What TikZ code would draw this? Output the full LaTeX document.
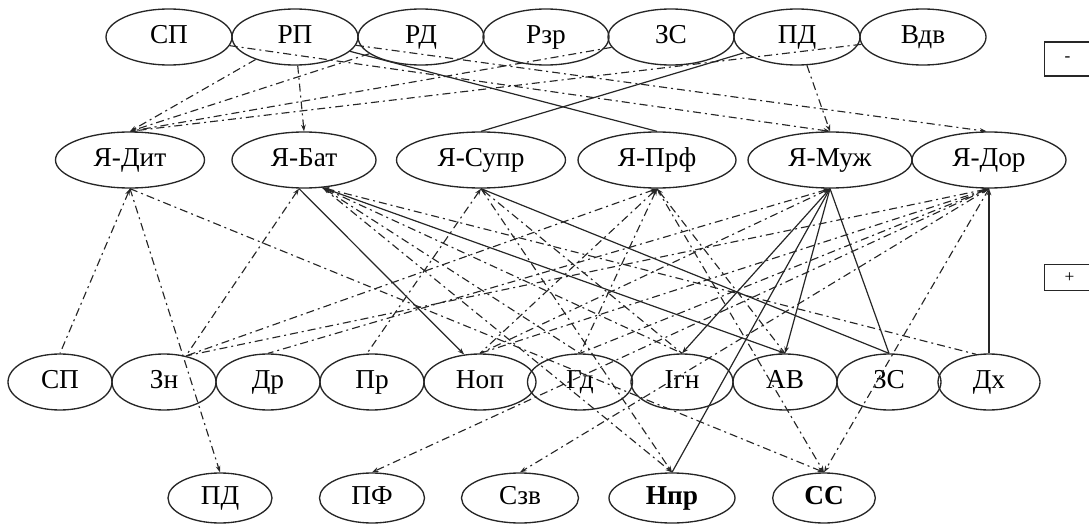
\documentclass[tikz,border=0pt]{standalone}
\usepackage{fontspec}
\setmainfont{Liberation Serif}
\usetikzlibrary{shapes.geometric,arrows.meta}

\tikzset{
    oval/.style={draw=black!85, line width=1pt, ellipse, inner sep=0pt,
        text height=14pt, text depth=4pt,
        minimum height=42pt, font=\fontsize{20.5}{22}\selectfont},
    dd/.style={black!85, line width=0.85pt,
        dash pattern=on 6pt off 3pt on 1.5pt off 3pt},
    sl/.style={black!85, line width=0.9pt},
    signbox/.style={draw=black!85, line width=0.9pt, anchor=west,
        text width=45pt, inner xsep=15pt, align=left,
        font=\fontsize{13}{14}\selectfont}
}

\begin{document}
\begin{tikzpicture}[x=0.75pt, y=-0.75pt, >={Stealth[length=5pt,width=3.5pt]}]
    \useasboundingbox (0,0) rectangle (1089,524);

    % Top row of ovals
    \foreach \n/\x/\t in {tSP/169/СП, tRP/295/РП, tRD/421/РД, tRzr/546/Рзр,
                          tZS/671/ЗС, tPD/797/ПД, tVdv/923/Вдв} {
        \node[oval, minimum width=94.5pt] (\n) at (\x,37) {\t};
    }
    % Middle row: the selves
    \foreach \n/\x/\w/\t in {yDyt/130/149/Я-Дит, yBat/304/144/Я-Бат,
                             ySupr/481/169/Я-Супр, yPrf/657/158/Я-Прф,
                             yMuzh/830/164/Я-Муж, yDor/989/154/Я-Дор} {
        \node[oval, minimum width=0.75pt*\w] (\n) at (\x,160) {\t};
    }
    % Third row
    \foreach \n/\x/\w/\t in {bSP/60/104/СП, bZn/164/104/Зн, bDr/268/104/Др,
                             bPr/372/104/Пр, bNop/480/112/Ноп, bGd/580/105/Гд,
                             bIgn/682/102/Ігн, bAV/785/104/АВ, bZS/889/104/ЗС,
                             bDx/989/102/Дх} {
        \node[oval, minimum width=0.75pt*\w] (\n) at (\x,382) {\t};
    }
    % Bottom row
    \foreach \n/\x/\w/\t in {cPD/220/104/ПД, cPF/372/105/ПФ, cSzv/520/117/Сзв} {
        \node[oval, minimum width=0.75pt*\w, minimum height=37.5pt] (\n) at (\x,498) {\t};
    }
    \node[oval, minimum width=94.5pt, minimum height=37.5pt] (cNpr) at (672,498) {\textbf{Нпр}};
    \node[oval, minimum width=77pt, minimum height=37.5pt] (cSS) at (824,498) {\textbf{СС}};

    % Sign boxes at the right
    \node[signbox, minimum height=25.5pt] (minus) at (1044,59) {-};
    \node[signbox, minimum height=20pt] (plus) at (1044,277.5) {+};

    % Links from the top row
    \foreach \a/\b in {tSP/yMuzh.north, tRP/yDor.95, tRP/yDyt.north, tRP/yBat.north,
                       tRD/yDyt.north, tZS/yDyt.north, tVdv/yDyt.north, tPD/yMuzh.north} {
        \draw[dd,->] (\a) -- (\b);
    }
    \draw[sl] (tRP) -- (yPrf.north);
    \draw[sl] (tPD) -- (ySupr.north);

    % Dash-dot links between middle and third row
    \foreach \a/\b in {yDyt.south/bSP.north, yBat.-100/bZn.50, yBat.-56/bGd.north,
                       yBat.-56/bDx.115, yBat.-56/bIgn.north, ySupr.south/bPr.100,
                       ySupr.south/bIgn.north, yPrf.south/bZn.50, yPrf.south/bGd.north,
                       yPrf.south/bNop.north, yPrf.south/bAV.north, yMuzh.south/bDr.north,
                       yMuzh.south/bNop.north, yDor.south/bZn.50, yDor.south/bNop.north,
                       yDor.south/bGd.north} {
        \draw[dd,<-] (\a) -- (\b);
    }
    % Solid links
    \draw[sl,->] (yBat.-100) -- (bNop.120);
    \draw[sl,->] (yBat.-56) -- (bAV.north);
    \draw[sl] (ySupr.south) -- (bZS.north);
    \draw[sl,->] (yMuzh.south) -- (bIgn.north);
    \draw[sl,->] (yMuzh.south) -- (bAV.north);
    \draw[sl] (yMuzh.south) -- (bZS.north);
    \draw[sl] (yMuzh.south) -- (cNpr.north);
    \draw[sl,->] (bDx.north) -- (yDor.south);

    % Dash-dot links to the bottom row
    \foreach \a/\b in {yDyt.south/cPD.north, yDyt.south/cSS.north, yBat.-56/cNpr.north,
                       ySupr.south/cNpr.north, yPrf.south/cSS.north, yDor.south/cSS.north,
                       yDor.south/cSzv.north, yDor.south/cPF.north} {
        \draw[dd,->] (\a) -- (\b);
    }
\end{tikzpicture}
\end{document}
